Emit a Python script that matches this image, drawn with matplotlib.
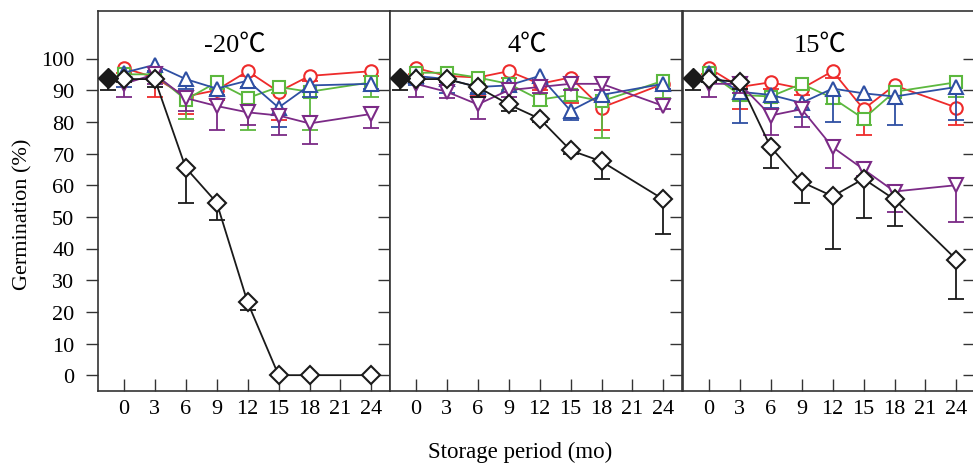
import numpy as np
import matplotlib
matplotlib.use("Agg")
import matplotlib.pyplot as plt

plt.rcParams['font.family'] = ['Liberation Serif', 'Noto Sans CJK SC', 'DejaVu Sans']

months = [0, 3, 6, 9, 12, 15, 18, 24]
xticks = [0, 3, 6, 9, 12, 15, 18, 21, 24]
yticks = [0, 10, 20, 30, 40, 50, 60, 70, 80, 90, 100]
panel_titles = ['-20℃', '4℃', '15℃']

# initial (fresh seed) value
init_x = -1.5
init_val = 94.0
init_err = 4.0

# ---- -20 C ----
m20_red = [97, 94, 88, 90, 96, 89.5, 94.5, 96]
m20_red_err = [1.5, 6, 5.5, 3, 1.5, 9, 1.5, 1.5]
m20_green = [95, 95, 87, 92.5, 87.5, 91, 89.5, 92.5]
m20_green_err = [2, 2, 6, 2, 10, 2, 12, 4.5]
m20_blue = [95.5, 98, 93.5, 90.5, 93, 84.5, 91.5, 92]
m20_blue_err = [4.5, 2, 3, 2, 2, 6, 3.5, 1.5]
m20_purple = [92, 95, 87.5, 85, 83, 82, 79.5, 82.5]
m20_purple_err = [4, 3, 4, 7.5, 4, 6, 6.5, 4.5]
m20_black = [93.5, 93.5, 65.5, 54.5, 23, 0, 0, 0]
m20_black_err = [1, 2.5, 11, 5.5, 2.5, 0, 0, 0]

# ---- 4 C ----
p4_red = [97, 94.5, 94, 96, 92, 94, 84.5, 92]
p4_red_err = [2, 2, 5.5, 2, 2, 8, 7, 1.5]
p4_green = [95.5, 95.5, 94, 92, 87, 88.5, 86.5, 93]
p4_green_err = [2, 2, 2, 2, 2, 2, 11.5, 5.5]
p4_blue = [94.5, 93.5, 91, 91.5, 94.5, 83.5, 88.5, 92]
p4_blue_err = [3, 4.5, 2, 2, 2, 3, 2, 1.5]
p4_purple = [92, 89.5, 85.5, 90, 91, 92, 92, 85]
p4_purple_err = [4, 2, 4.5, 2, 2, 2, 2, 1]
p4_black = [93.5, 93.5, 91, 85.5, 81, 71, 67.5, 55.5]
p4_black_err = [1, 1, 3, 2, 1, 1, 5.5, 11]

# ---- 15 C ----
p15_red = [97, 91, 92.5, 90.5, 96, 84, 91.5, 84.5]
p15_red_err = [2, 7, 2, 2, 2, 8, 6, 5.5]
p15_green = [95.5, 88.5, 88, 92, 87.5, 81, 89.5, 92.5]
p15_green_err = [2, 2, 4, 2, 2, 2, 4, 4.5]
p15_blue = [95.5, 89.5, 88.5, 86, 90.5, 89, 88, 91]
p15_blue_err = [3, 10, 4, 4.5, 10.5, 2, 9, 10.5]
p15_purple = [92, 92, 82, 84, 72, 65, 58, 60]
p15_purple_err = [4, 3, 6, 5.5, 6.5, 2, 6.5, 11.5]
p15_black = [93.5, 92.5, 72, 61, 56.5, 62, 55.5, 36.5]
p15_black_err = [1, 2, 6.5, 6.5, 16.5, 12.5, 8.5, 12.5]

panels = [
    [(m20_red, m20_red_err), (m20_green, m20_green_err), (m20_blue, m20_blue_err),
     (m20_purple, m20_purple_err), (m20_black, m20_black_err)],
    [(p4_red, p4_red_err), (p4_green, p4_green_err), (p4_blue, p4_blue_err),
     (p4_purple, p4_purple_err), (p4_black, p4_black_err)],
    [(p15_red, p15_red_err), (p15_green, p15_green_err), (p15_blue, p15_blue_err),
     (p15_purple, p15_purple_err), (p15_black, p15_black_err)],
]

styles = [
    dict(color='#ee2b2b', marker='o', ms=9),
    dict(color='#5cb83e', marker='s', ms=8.5),
    dict(color='#2e4fa3', marker='^', ms=10),
    dict(color='#7b2a86', marker='v', ms=10),
    dict(color='#1a1a1a', marker='D', ms=9),
]

W, H = 973, 464
fig = plt.figure(figsize=(W / 100, H / 100), dpi=100)
spine_c = '#333333'
lefts = [98, 390, 683]
pw = 292
top, bot = 12, 392

def draw_err(ax, x, y, e, color, z):
    e = np.array(e, dtype=float)
    e[e == 0] = np.nan
    eb = ax.errorbar(x, y, yerr=[e, np.zeros_like(e)], fmt='none', ecolor=color,
                     elinewidth=1.3, capsize=6, capthick=1.3, zorder=z)
    caps = eb.lines[1]
    if len(caps) > 1:
        caps[1].set_visible(False)

for i, (ax_left, series) in enumerate(zip(lefts, panels)):
    ax = fig.add_axes([ax_left / W, 1 - bot / H, pw / W, (bot - top) / H])
    for k, ((vals, errs), st) in enumerate(zip(series, styles)):
        z = 3 + k
        draw_err(ax, months, vals, errs, st['color'], z)
        ax.plot(months, vals, color=st['color'], lw=1.3, marker=st['marker'],
                ms=st['ms'], mfc='white', mec=st['color'], mew=1.5, zorder=z + 0.5)
    # initial value
    draw_err(ax, [init_x], [init_val], [init_err], '#1a1a1a', 9)
    ax.plot([init_x], [init_val], marker='D', ms=10, color='#1a1a1a', zorder=9.5)

    ax.set_xlim(-2.5, 25.8)
    ax.set_ylim(-5, 115)
    ax.set_xticks(xticks)
    ax.set_xticklabels([str(t) for t in xticks], fontsize=16)
    ax.set_yticks(yticks)
    ax.tick_params(axis='x', direction='in', length=9, width=1, color=spine_c, pad=6)
    if i == 0:
        ax.tick_params(axis='y', which='both', left=True, right=True, labelleft=True,
                       length=9, width=1, color=spine_c, labelsize=16, pad=8)
        ax.yaxis.set_tick_params(which='major', direction='out')
        ax.set_ylabel('Germination (%)', fontsize=16)
        ax.yaxis.set_label_coords(-0.225, 0.468)
    else:
        ax.tick_params(axis='y', left=False, right=True, labelleft=False,
                       length=9, width=1, color=spine_c)
    # right ticks inward
    for t in ax.yaxis.get_major_ticks():
        t.tick2line.set_marker(matplotlib.lines.TICKLEFT)
        t.tick2line.set_markersize(9)
    for sp in ax.spines.values():
        sp.set_color(spine_c)
        sp.set_linewidth(1.2)
    ax.text(0.47, 0.91, panel_titles[i], transform=ax.transAxes, ha='center',
            va='center', fontsize=19)

fig.text(520 / W, 1 - 452 / H, 'Storage period (mo)', ha='center', va='center', fontsize=16.5)
fig.savefig('out.png', dpi=100)
